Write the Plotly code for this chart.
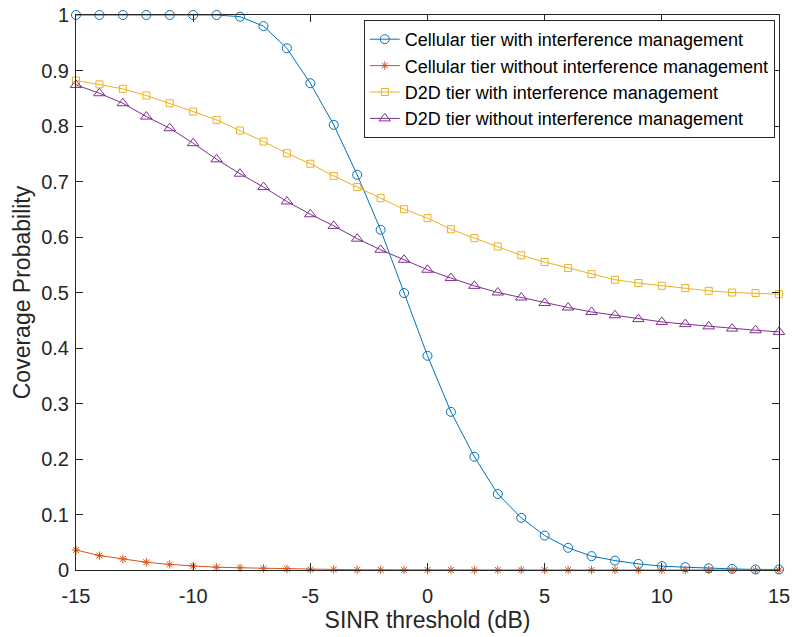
import plotly.graph_objects as go

sinr_db = list(range(-15, 16))

cell_with_im = [1.0, 1.0, 1.0, 1.0, 1.0, 1.0, 1.0, 0.997, 0.980, 0.940, 0.877, 0.802,
                0.712, 0.613, 0.499, 0.386, 0.285, 0.204, 0.137, 0.094, 0.062, 0.040,
                0.025, 0.017, 0.011, 0.007, 0.005, 0.003, 0.002, 0.001, 0.001]
cell_without_im = [0.036, 0.026, 0.020, 0.014, 0.010, 0.007, 0.005, 0.004, 0.003, 0.002,
                   0.001, 0.001, 0.0005, 0.0003, 0.0002, 0.0001, 0.0, 0.0, 0.0, 0.0, 0.0,
                   0.0, 0.0, 0.0, 0.0, 0.0, 0.0, 0.0, 0.0, 0.0, 0.0]
d2d_with_im = [0.882, 0.875, 0.867, 0.855, 0.841, 0.826, 0.811, 0.792, 0.772, 0.751,
               0.732, 0.710, 0.690, 0.670, 0.650, 0.634, 0.614, 0.598, 0.583, 0.567,
               0.555, 0.544, 0.533, 0.523, 0.517, 0.512, 0.508, 0.503, 0.500, 0.499, 0.497]
d2d_without_im = [0.874, 0.859, 0.841, 0.817, 0.796, 0.769, 0.740, 0.714, 0.690, 0.664,
                  0.641, 0.620, 0.597, 0.577, 0.559, 0.541, 0.526, 0.512, 0.500, 0.491,
                  0.481, 0.473, 0.465, 0.459, 0.452, 0.447, 0.443, 0.439, 0.435, 0.432, 0.429]

series_names = [
    "Cellular tier with interference management",
    "Cellular tier without interference management",
    "D2D tier with interference management",
    "D2D tier without interference management",
]
colors = ["#0072BD", "#D95319", "#EDB120", "#7E2F8E"]
symbols = ["circle-open", "asterisk-open", "square-open", "triangle-up-open"]
sizes = [9, 7, 7, 10]

x_ticks = [-15, -10, -5, 0, 5, 10, 15]
x_ticklabels = ["-15", "-10", "-5", "0", "5", "10", "15"]
y_ticks = [0, 0.1, 0.2, 0.3, 0.4, 0.5, 0.6, 0.7, 0.8, 0.9, 1]
y_ticklabels = ["0", "0.1", "0.2", "0.3", "0.4", "0.5", "0.6", "0.7", "0.8", "0.9", "1"]

fig = go.Figure()
for name, ys, c, s, sz in zip(series_names,
                              [cell_with_im, cell_without_im, d2d_with_im, d2d_without_im],
                              colors, symbols, sizes):
    fig.add_trace(go.Scatter(
        x=sinr_db, y=ys, name=name, mode="lines+markers",
        line=dict(color=c, width=1),
        marker=dict(symbol=s, size=sz, color=c, line=dict(color=c, width=1)),
        cliponaxis=False,
    ))

axis_color = "#262626"
font_family = "Liberation Sans, Arial, sans-serif"

fig.update_layout(
    width=793, height=637,
    margin=dict(l=76, r=14, t=15, b=67, autoexpand=False),
    paper_bgcolor="white", plot_bgcolor="white",
    font=dict(family=font_family, size=20, color=axis_color),
    showlegend=True,
    legend=dict(
        x=0.994, y=0.991, xanchor="right", yanchor="top",
        bgcolor="white", bordercolor=axis_color, borderwidth=1,
        font=dict(size=18, color="black"),
        tracegroupgap=0, itemwidth=30,
    ),
    xaxis=dict(
        range=[-15, 15], tickvals=x_ticks, ticktext=x_ticklabels, ticks="inside", ticklen=7,
        tickcolor=axis_color, showline=True, linecolor=axis_color, linewidth=1,
        mirror="ticks", showgrid=False, zeroline=False, automargin=False,
        title=dict(text="SINR threshold (dB)", font=dict(size=23), standoff=4),
        tickfont=dict(size=20), ticklabelstandoff=8,
    ),
    yaxis=dict(
        range=[0, 1], tickvals=y_ticks, ticktext=y_ticklabels, ticks="inside", ticklen=7,
        tickcolor=axis_color, showline=True, linecolor=axis_color, linewidth=1,
        mirror="ticks", showgrid=False, zeroline=False, automargin=False,
        title=dict(text="Coverage Probability", font=dict(size=23), standoff=4),
        tickfont=dict(size=20), ticklabelstandoff=2,
    ),
)

fig.write_html("out.html")
